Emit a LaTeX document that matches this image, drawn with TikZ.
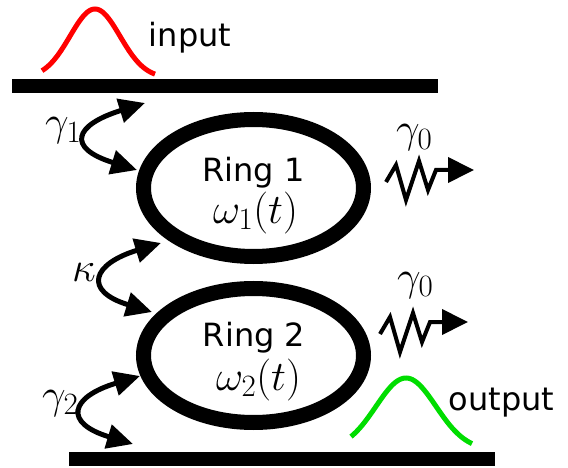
\documentclass[tikz,border=0pt]{standalone}
\usepackage{fix-cm}
\usepackage[no-math]{fontspec}
\setmainfont{DejaVu Sans}
\usetikzlibrary{arrows.meta,shapes.geometric}
\DeclareMathSizes{42}{42}{31}{24}
\definecolor{pulsered}{RGB}{255,0,0}
\definecolor{pulsegreen}{RGB}{0,221,0}
\tikzset{
  guide/.style={rectangle, fill=black, draw=none, inner sep=0pt, minimum height=14pt, minimum width=426pt},
  ringbox/.style={ellipse, draw=black, line width=15pt, minimum width=220pt, inner sep=0pt},
  lbl/.style={inner sep=0pt, anchor=base, font=\fontsize{32}{38}\selectfont},
  mlbl/.style={inner sep=0pt, anchor=base west, font=\fontsize{42}{50}\selectfont},
  coup/.style={line width=5pt, {Triangle[length=26pt,width=24pt]}-{Triangle[length=26pt,width=24pt]}},
  loss/.style={line width=4pt, -{Triangle[length=26pt,width=25pt]}},
  pulse/.style={line width=5pt},
}
\begin{document}
\begin{tikzpicture}[x=1pt,y=-1pt]
\useasboundingbox (0,0) rectangle (568,468);
% pulses
\draw[pulse, pulsered] plot[domain=42:155, samples=80, smooth] (\x, {78 - 69*exp(-((\x-95)^2)/1250)});
\draw[pulse, pulsegreen] plot[domain=351:472, samples=80, smooth] (\x, {450 - 72*exp(-((\x-406)^2)/1800)});
% waveguides
\node[guide] (topwg) at (225,86) {};
\node[guide] (botwg) at (282,458.5) {};
% rings
\node[ringbox, minimum height=137pt] (ring1) at (253.5,188) {};
\node[ringbox, minimum height=134pt] (ring2) at (253.5,355.5) {};
% texts
\node[lbl] (in) at (190,47) {input};
\node[lbl] (out) at (501.5,410) {output};
\node[lbl] (r1) at (253.5,182) {Ring 1};
\node[lbl] (r2) at (254,346) {Ring 2};
\node[mlbl, anchor=base] (w1) at (255.5,223) {$\omega_1(t)$};
\node[mlbl, anchor=base] (w2) at (258.5,390) {$\omega_2(t)$};
\node[mlbl] (g1) at (45,136) {$\gamma_1$};
\node[mlbl] (kap) at (72,281) {$\kappa$};
\node[mlbl] (g2) at (42,408) {$\gamma_2$};
\node[mlbl] (g0a) at (396,143) {$\gamma_0$};
\node[mlbl] (g0b) at (397,290) {$\gamma_0$};
% coupling arrows
\coordinate (g1a) at (145,103); \coordinate (g1b) at (137,170);
\coordinate (ka) at (161,243); \coordinate (kb) at (152,312);
\coordinate (g2a) at (140,376); \coordinate (g2b) at (133,444);
\draw[coup] (g1a) .. controls +(-71,22) and +(-71,-22) .. (g1b);
\draw[coup] (ka) .. controls +(-69,21) and +(-69,-21) .. (kb);
\draw[coup] (g2a) .. controls +(-70,21) and +(-70,-21) .. (g2b);
% loss arrows
\coordinate (l1s) at (386,182); \coordinate (l1e) at (474,170);
\coordinate (l2s) at (380,334); \coordinate (l2e) at (468,322);
\draw[loss] (l1s) -- ++(10,-17) -- ++(10,35) -- ++(13,-39) -- ++(9,29) -- ++(8,-20) -- (l1e);
\draw[loss] (l2s) -- ++(10,-17) -- ++(10,35) -- ++(13,-39) -- ++(9,29) -- ++(8,-20) -- (l2e);
\end{tikzpicture}
\end{document}
